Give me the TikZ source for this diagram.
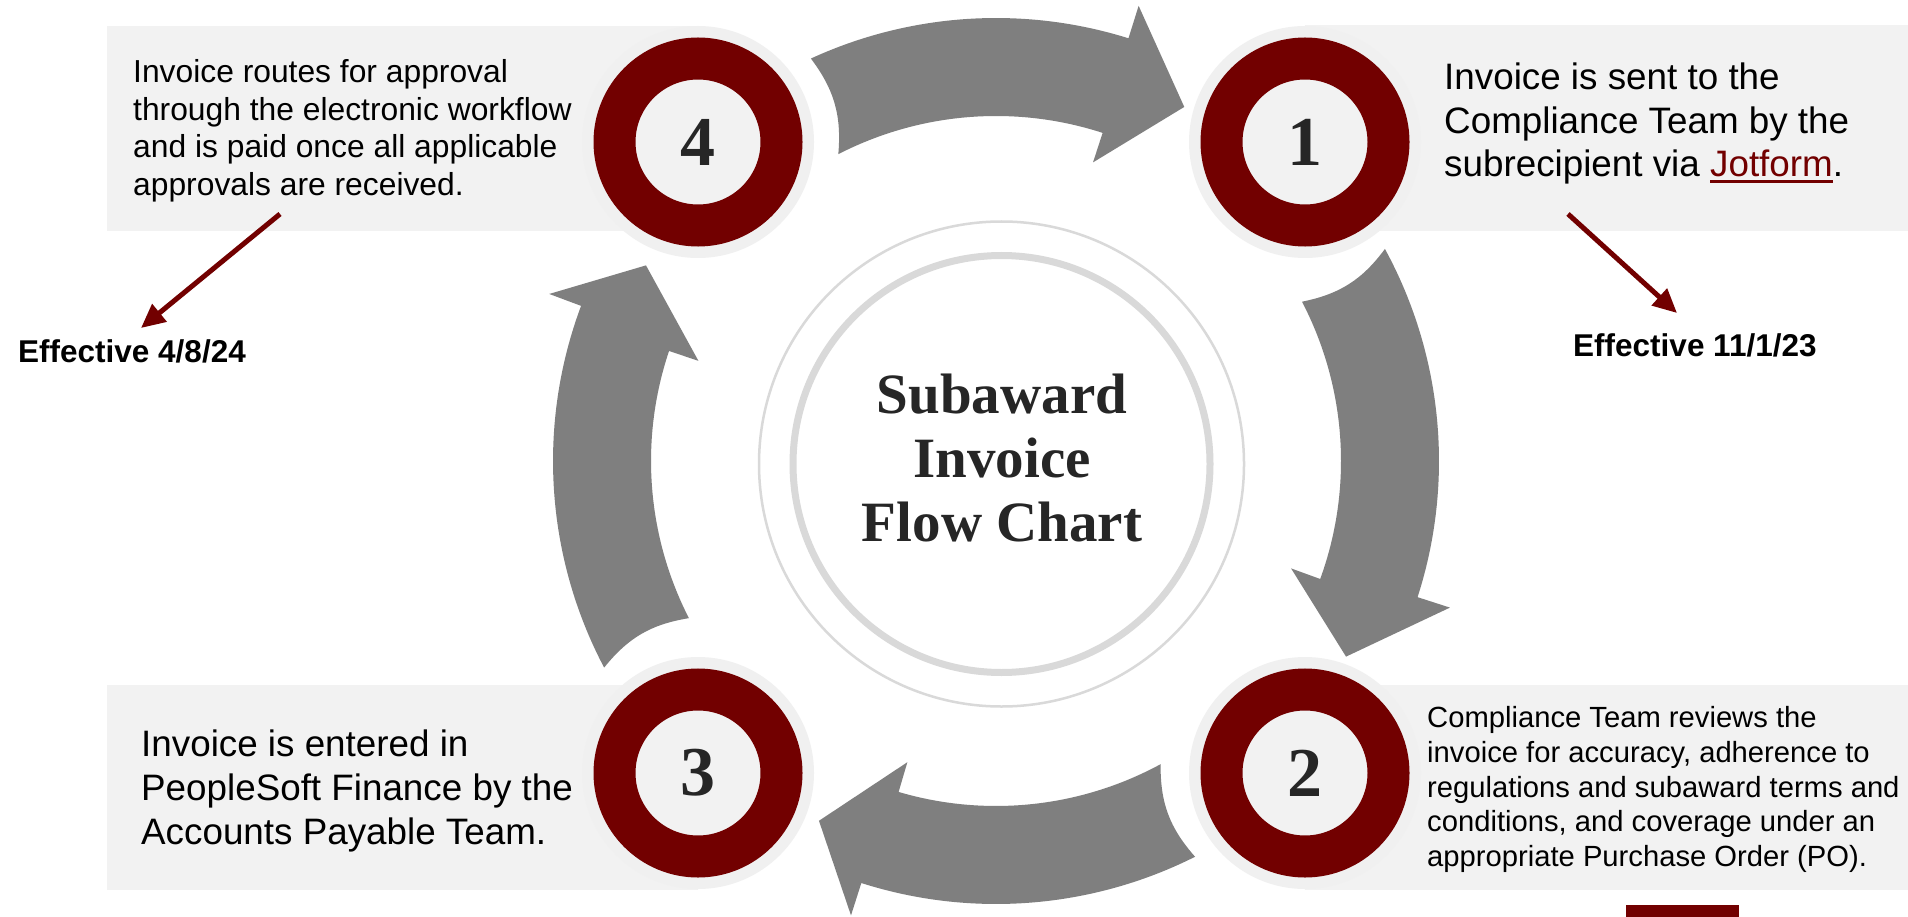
\documentclass[tikz,border=0pt]{standalone}
\usepackage{fontspec}
\usetikzlibrary{arrows.meta}
\newfontfamily\bodyfont{Liberation Sans}
\newfontfamily\headfont{Liberation Serif}
\definecolor{stepred}{HTML}{720000}
\definecolor{panelgray}{HTML}{F2F2F2}
\definecolor{halogray}{HTML}{F0F0F0}
\definecolor{flowgray}{HTML}{7F7F7F}
\definecolor{targetgray}{HTML}{D9D9D9}
\definecolor{inkgray}{HTML}{262626}
% underlined link text
\newcommand\linkline[1]{\setbox0\hbox{#1}\rlap{\rule[-6pt]{\wd0}{2.7pt}}#1}
% curved block arrow on the ring: tail outer/inner angle, head base outer/inner angle, tip angle
\newcommand\ringarrow[5]{%
  \fill[flowgray] (#1:443) arc[start angle=#1, end angle=#3, radius=443]
    -- (#3:477) -- (#5:401) -- (#4:314) -- (#4:345)
    arc[start angle=#4, end angle=#2, radius=345]
    to[bend left=21] (#1:443) -- cycle;}
\begin{document}
\begin{tikzpicture}[x=1pt, y=-1pt,
  halo/.style={circle, fill=halogray, minimum size=232pt, inner sep=0pt},
  stepring/.style={circle, fill=panelgray, draw=stepred, line width=42pt,
    minimum size=167pt, inner sep=0pt, text=inkgray,
    font=\headfont\bfseries\fontsize{70}{70}\selectfont},
  copyfour/.style={anchor=base west, inner sep=0pt, font=\bodyfont\fontsize{31.8}{38}\selectfont},
  copybig/.style={anchor=base west, inner sep=0pt, font=\bodyfont\fontsize{36.8}{44}\selectfont},
  copytwo/.style={anchor=base west, inner sep=0pt, font=\bodyfont\fontsize{29.2}{35}\selectfont},
  dateline/.style={anchor=base west, inner sep=0pt, font=\bodyfont\bfseries\fontsize{31.5}{38}\selectfont},
  titleline/.style={anchor=base, inner sep=0pt, text=inkgray, font=\headfont\bfseries\fontsize{57}{64}\selectfont},
  datearrow/.style={draw=stepred, line width=5pt, -{Triangle[length=24pt, width=22pt]}},
]
\useasboundingbox (0,0) rectangle (1908,917);
\fill[white] (0,0) rectangle (1908,917);

% central target rings
\draw[targetgray, line width=2.5pt] (1001.5,464) circle[radius=242.5];
\draw[targetgray, line width=7pt] (1001.5,464) circle[radius=208.5];
\node[titleline] (title1) at (1002,413) {Subaward};
\node[titleline] (title2) at (1002,477) {Invoice};
\node[titleline] (title3) at (1002,541) {Flow Chart};

% clockwise flow arrows
\begin{scope}[shift={(996,461)}, yscale=-1]
  \ringarrow{114.7}{117.2}{72.6}{72.0}{62.0}
  \ringarrow{28.6}{27.5}{-17.9}{-20.0}{-29.2}
  \ringarrow{-63.3}{-61.5}{-107.7}{-106.4}{-116.2}
  \ringarrow{207.8}{207.1}{159.5}{161.4}{150.8}
\end{scope}

% text panels
\fill[panelgray] (107,26) rectangle (698,231);
\fill[panelgray] (1305,25) rectangle (1908,231);
\fill[panelgray] (107,685) rectangle (698,890);
\fill[panelgray] (1305,685) rectangle (1908,890);

% numbered steps
\node[halo] (h4) at (698,142) {};
\node[halo] (h1) at (1305,142) {};
\node[halo] (h2) at (1305,773) {};
\node[halo] (h3) at (698,773) {};
\node[stepring] (s4) at (698,142) {4};
\node[stepring] (s1) at (1305,142) {1};
\node[stepring] (s2) at (1305,773) {2};
\node[stepring] (s3) at (698,773) {3};

% step 4
\node[copyfour] (t4a) at (133,82.3) {Invoice routes for approval};
\node[copyfour] (t4b) at (133,120.1) {through the electronic workflow};
\node[copyfour] (t4c) at (133,157.9) {and is paid once all applicable};
\node[copyfour] (t4d) at (133,195.7) {approvals are received.};

% step 1
\node[copybig] (t1a) at (1444,90) {Invoice is sent to the};
\node[copybig] (t1b) at (1444,133.3) {Compliance Team by the};
\node[copybig] (t1c) at (1444,176.6) {subrecipient via \textcolor{stepred}{\linkline{Jotform}}.};

% step 2
\node[copytwo] (t2a) at (1427,727.7) {Compliance Team reviews the};
\node[copytwo] (t2b) at (1427,762.4) {invoice for accuracy, adherence to};
\node[copytwo] (t2c) at (1427,797.0) {regulations and subaward terms and};
\node[copytwo] (t2d) at (1427,831.7) {conditions, and coverage under an};
\node[copytwo] (t2e) at (1427,866.3) {appropriate Purchase Order (PO).};

% step 3
\node[copybig] (t3a) at (141,756) {Invoice is entered in};
\node[copybig] (t3b) at (141,800.1) {PeopleSoft Finance by the};
\node[copybig] (t3c) at (141,844.2) {Accounts Payable Team.};

% effective dates
\node[dateline] (d4) at (18,362) {Effective 4/8/24};
\node[dateline] (d1) at (1573,356) {Effective 11/1/23};
\coordinate (d4from) at (280,214);
\coordinate (d4to) at (141,328);
\coordinate (d1from) at (1568,214);
\coordinate (d1to) at (1677,313);
\draw[datearrow] (d4from) -- (d4to);
\draw[datearrow] (d1from) -- (d1to);

% corner mark
\fill[stepred] (1626,905) rectangle (1739,917);
\end{tikzpicture}
\end{document}
